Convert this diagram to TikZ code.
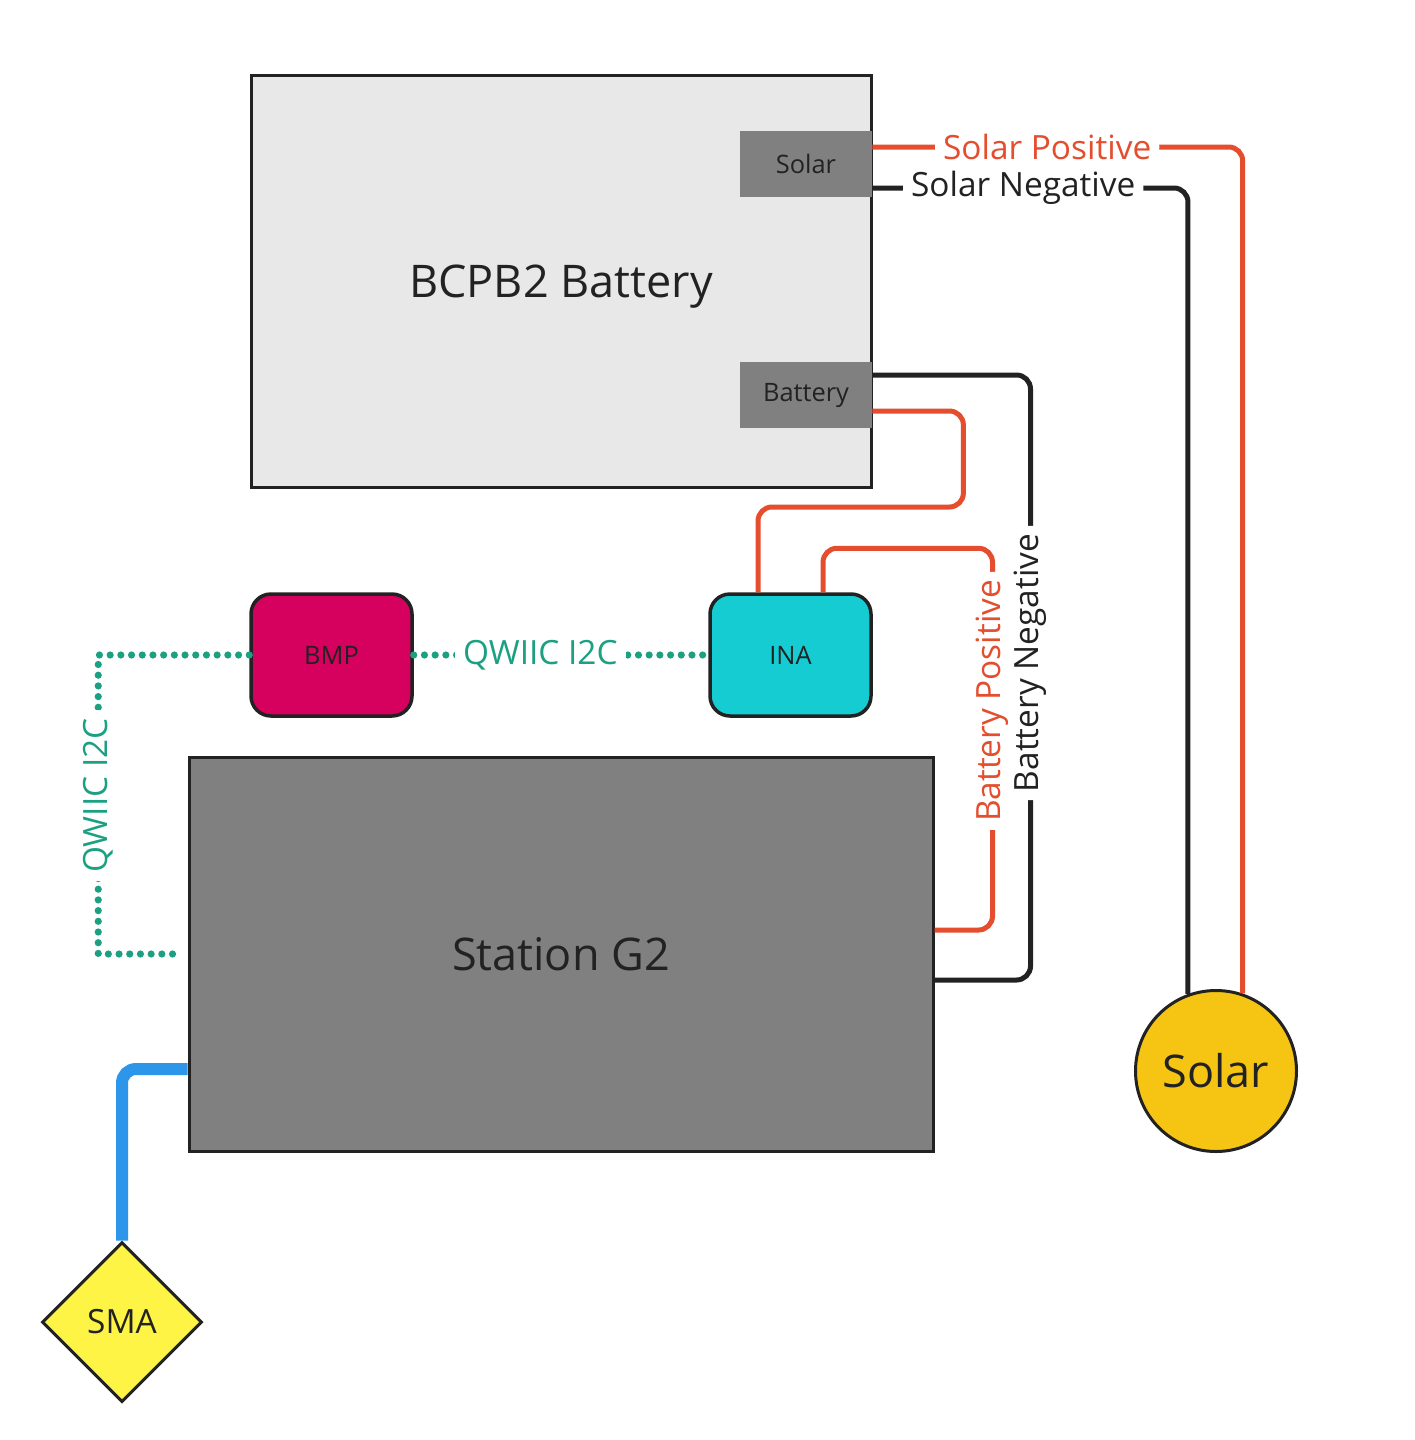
\documentclass[tikz,border=0pt]{standalone}
\usepackage{fontspec}
\setmainfont{Open Sans}
\usetikzlibrary{shapes.geometric}
\definecolor{wred}{HTML}{E44D2E}
\definecolor{wdark}{HTML}{222222}
\definecolor{boxlight}{HTML}{E8E8E8}
\definecolor{boxgray}{HTML}{808080}
\definecolor{inacyan}{HTML}{15CCD3}
\definecolor{bmpred}{HTML}{D6005E}
\definecolor{smayellow}{HTML}{FDF445}
\definecolor{solaryellow}{HTML}{F6C514}
\definecolor{qteal}{HTML}{1BA082}
\definecolor{wblue}{HTML}{2D96EA}
\begin{document}
\begin{tikzpicture}[x=0.5pt,y=-0.5pt,
  bigbox/.style={draw=wdark,line width=1.5pt,text=wdark,font=\fontsize{22.5}{26}\selectfont},
  port/.style={fill=boxgray,draw=none,minimum width=66pt,minimum height=33pt,text=wdark,font=\fontsize{12.7}{15}\selectfont},
  chip/.style={draw=wdark,line width=1.75pt,rounded corners=10pt,minimum width=80.5pt,minimum height=61pt,text=wdark,font=\fontsize{12.7}{15}\selectfont},
  redwire/.style={draw=wred,line width=2.5pt,rounded corners=7pt},
  darkwire/.style={draw=wdark,line width=2.5pt,rounded corners=7pt},
  i2c/.style={draw=qteal,line width=3.6pt,line cap=round,dash pattern=on 0pt off 5.35pt},
  bluewire/.style={draw=wblue,line width=6pt,rounded corners=7pt},
  wlabel/.style={fill=white,inner xsep=4pt,inner ysep=1pt,font=\fontsize{16.7}{20}\selectfont},
]
\useasboundingbox[fill=white] (0,0) rectangle (1414,1440);

% boxes
\node[bigbox,fill=boxlight,minimum width=310pt,minimum height=206pt] (bcpb) at (561,281) {};
\node[text=wdark,font=\fontsize{22.5}{26}\selectfont] (bcpblabel) at (561,287) {BCPB2 Battery};
\node[port] (solarport) at (806,164) {Solar};
\node[port] (battport) at (806,395) {\raisebox{-1pt}{Battery}};

\node[chip,fill=inacyan] (ina) at (790.5,655) {INA};
\node[chip,fill=bmpred] (bmp) at (331.5,655) {BMP};

\node[bigbox,fill=boxgray,minimum width=372pt,minimum height=197pt] (station) at (561,954) {\raisebox{-1.5pt}{Station G2}};

\node[diamond,draw=wdark,line width=1.5pt,fill=smayellow,minimum width=80pt,minimum height=80pt,inner sep=0pt,text=wdark,font=\fontsize{16.7}{20}\selectfont] (sma) at (122,1322) {SMA};
\node[circle,draw=wdark,line width=1.5pt,fill=solaryellow,minimum size=80.5pt,inner sep=0pt,text=wdark,font=\fontsize{22.5}{26}\selectfont] (solarc) at (1216,1071) {Solar};

% solar wires
\draw[redwire] ([yshift=8.5pt]solarport.east) -| node[pos=0.236,wlabel,text=wred] (splabel) {Solar Positive} (solarc.71);
\draw[darkwire] ([yshift=-12pt]solarport.east) -| node[pos=0.239,wlabel,text=wdark] (snlabel) {\raisebox{-1pt}{Solar Negative}} (solarc.110);

% battery negative
\draw[darkwire] ([yshift=10pt]battport.east) -| node[pos=0.738,wlabel,rotate=90,text=wdark] (bnlabel) {Battery Negative} ([xshift=48pt,yshift=-13pt]station.east) -- ([yshift=-13pt]station.east);

% battery positive: battery -> INA
\draw[redwire] ([yshift=-8pt]battport.east) -- ++(91,0) -- ++(0,96) -| ([xshift=-16.25pt]ina.north);
% INA -> station
\draw[redwire] ([xshift=16.25pt]ina.north) -- ++(0,-44) -| node[pos=0.70,wlabel,rotate=90,text=wred] (bplabel) {Battery Positive} ([xshift=29pt,yshift=12pt]station.east) -- ([yshift=12pt]station.east);

% I2C
\draw[i2c] (bmp.east) -- node[pos=0.43,wlabel,text=qteal] (q1label) {QWIIC I2C} (ina.west);
\draw[i2c] (bmp.west) -- ++(-151,0) |- node[pos=0.235,wlabel,rotate=90,text=qteal] (q2label) {QWIIC I2C} ([xshift=-5pt]station.west);

% antenna
\draw[bluewire] ([yshift=-57.5pt]station.west) -| (sma.north);
\end{tikzpicture}
\end{document}
